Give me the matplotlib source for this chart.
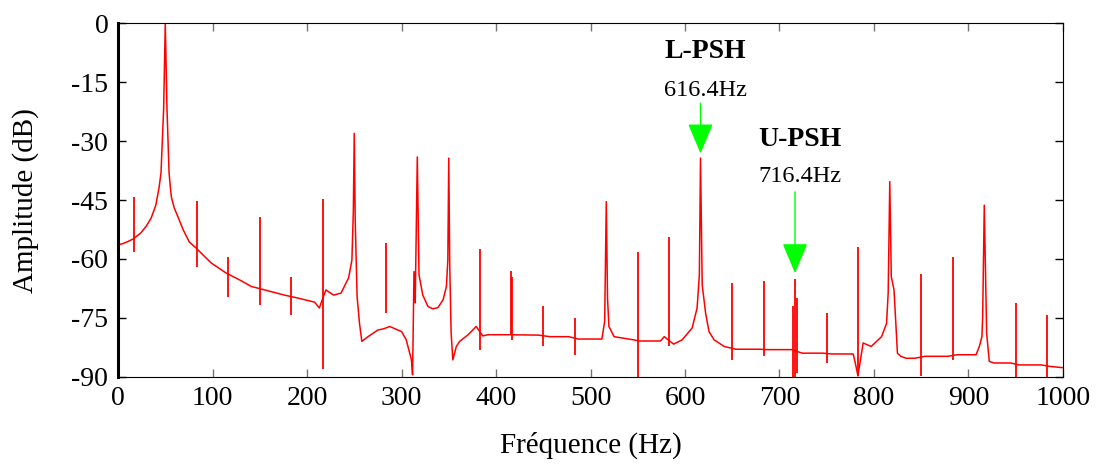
import matplotlib
matplotlib.use('Agg')
import matplotlib.pyplot as plt

plt.rcParams['font.family'] = ['Liberation Serif', 'DejaVu Serif']
plt.rcParams['axes.unicode_minus'] = False

# spectrum floor + wide peaks (Hz, dB)
base_freq = [0, 5, 10, 16, 24, 30, 35, 40, 43.5, 45.5, 47, 48.3, 50, 51.8, 52.8, 54, 55.5, 56.5,
             59.5, 64, 69, 75.5, 82.5, 98.5, 114.5, 130, 141, 160, 176, 191, 208, 213, 216.7,
             220, 228, 236, 244, 247.5, 249, 250, 251, 253, 255.5, 258, 264.5, 275, 281, 287.5,
             300, 305, 310.5, 311.7, 313.2, 314.5, 316.7, 318.5, 322.5, 328, 333, 338.5, 344,
             347.5, 349, 350, 351, 352.5, 354.3, 358, 361.5, 370.5, 379, 386, 391.5, 413, 445,
             457, 477, 487, 512, 515, 516.7, 518, 519.5, 525, 545.5, 552, 574, 578, 588, 597,
             607.5, 612.8, 615.2, 615.9, 616.4, 617.3, 618.2, 621.8, 625.4, 630.8, 641.5, 654,
             679, 687, 713, 724, 746, 755, 778, 781, 783, 788.5, 797, 808, 813.3, 815, 816.7,
             818.3, 821.2, 824.8, 828.4, 834, 843, 854, 878, 888, 908, 911.5, 914.2, 915, 916.7,
             919.2, 922, 927, 945, 953, 977, 987, 1000]
base_db = [-56.4, -56.1, -55.6, -54.9, -53.4, -51.6, -49.6, -46.3, -41.7, -38, -29, -21.6, 0,
           -21.6, -29, -38, -42, -44.3, -47, -49.6, -52.6, -55.7, -57.2, -61, -63.6, -65.5, -67.0,
           -68.2, -69.2, -70, -71, -72.5, -70, -67.9, -69.2, -68.7, -64.8, -60.3, -48, -28, -50,
           -69.6, -76.3, -81, -79.8, -78.1, -77.8, -77.2, -78.5, -80.6, -85.7, -89.5, -63.2,
           -71.2, -34, -64, -69.2, -72.1, -72.7, -72.4, -70.4, -67, -60.3, -34.3, -61, -78.8,
           -85.7, -82.3, -81, -79.3, -77.2, -79.6, -79.3, -79.3, -79.4, -79.8, -79.8, -80.4,
           -80.4, -75.9, -45.4, -70, -77.2, -79.8, -80.6, -80.9, -80.9, -79.8, -81.7, -80.6,
           -77.6, -72.5, -64, -45, -34.3, -50, -66.6, -73.8, -78.5, -80.6, -82.3, -83, -83,
           -83.1, -83.1, -84, -84, -84.2, -84.2, -87.4, -89.8, -81.4, -82.3, -79.8, -76.4,
           -68.7, -40.3, -64.5, -67.9, -84, -84.8, -85.3, -85.3, -84.8, -84.8, -84.4, -84.4,
           -82.3, -79.8, -74.7, -46.3, -78.9, -86.1, -86.5, -86.5, -87, -87, -87.4, -87.7]

# narrow harmonics: frequency, top and bottom of each spike
spike_freq = [16.7, 83.3, 116.7, 150, 183.3, 216.7, 283.3, 383.3, 415.5, 416.7, 450, 483.3,
              550, 583.3, 650, 683.3, 714, 716.4, 719, 750, 783.3, 850, 883.3, 950, 983.3]
spike_top = [-44.2, -45.3, -59.4, -49.2, -64.5, -44.7, -56, -57.5, -63, -64.5, -72.1, -75.1,
             -58.1, -54.5, -66.2, -65.6, -72, -65.2, -70, -73.8, -57, -63.8, -59.6, -71.3, -74.2]
spike_bottom = [-58.1, -62.1, -69.8, -71.7, -74.2, -88, -73.8, -83.1, -79, -80.6, -82.3, -84.4,
                -90, -82.3, -85.7, -84.8, -90, -90, -89, -86.5, -89.8, -89.9, -85.7, -90, -90]

ann_names = ['L-PSH', 'U-PSH']
ann_freq = [616.4, 716.4]

fig = plt.figure(figsize=(11.02, 4.66), dpi=100)
ax = fig.add_axes([0.1071, 0.1916, 0.8575, 0.758])

ax.plot(base_freq, base_db, color='#ff0000', lw=1.1)
ax.vlines(spike_freq, spike_bottom, spike_top, color='#ff0000', lw=1.3)

ax.set_xlim(0, 1000)
ax.set_ylim(-90, 0)
ax.set_xticks(range(0, 1001, 100))
ax.set_yticks(range(-90, 1, 15))
ax.tick_params(direction='in', top=True, right=True, length=6, width=1, labelsize=20, pad=7)
ax.tick_params(axis='x', color='0.45')
for s in ['top', 'right', 'bottom']:
    ax.spines[s].set_linewidth(0.8)
ax.spines['left'].set_linewidth(2.2)

ax.set_xlabel('Fréquence (Hz)', fontsize=21)
ax.set_ylabel('Amplitude (dB)', fontsize=21)
ax.xaxis.set_label_coords(0.5, -0.155)
ax.yaxis.set_label_coords(-0.084, 0.5)

# labels + green arrows for the slot harmonics
name_y = [-8.8, -31.2]
val_y = [-18.5, -40.3]
tail_y = [-20.3, -42.9]
tip_y = [-33.1, -63.6]
for i in range(2):
    f = ann_freq[i]
    ax.text(f + 5, name_y[i], ann_names[i], fontsize=20, fontweight='bold',
            ha='center', va='baseline')
    ax.text(f + 5, val_y[i], '%.1fHz' % f, fontsize=17.5, ha='center', va='baseline')
    ax.annotate('', xy=(f, tip_y[i]), xytext=(f, tail_y[i]),
                arrowprops=dict(arrowstyle='-|>,head_length=0.95,head_width=0.4',
                                mutation_scale=20, color='#00ff00', lw=1,
                                shrinkA=0, shrinkB=0))

fig.savefig('out.png', dpi=100)
